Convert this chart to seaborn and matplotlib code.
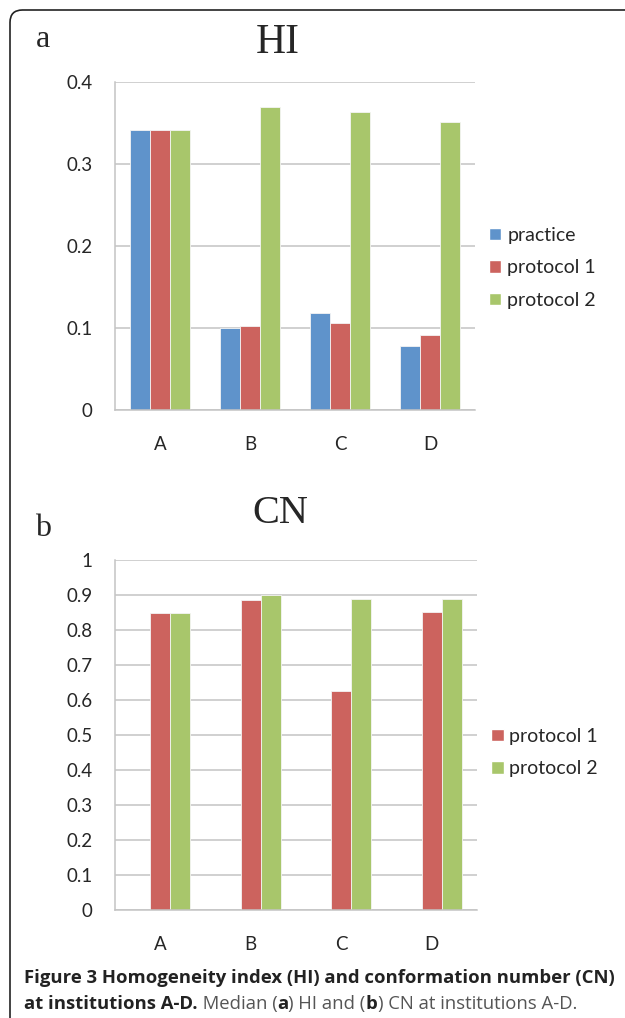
import pandas as pd
import seaborn as sns
import matplotlib.pyplot as plt
from matplotlib.patches import FancyBboxPatch, Patch

# valores
instituicoes = ["A", "B", "C", "D"]
series = ["practice", "protocol 1", "protocol 2"]
hi_practice = [0.342, 0.100, 0.118, 0.078]
hi_protocol1 = [0.342, 0.102, 0.106, 0.091]
hi_protocol2 = [0.342, 0.369, 0.363, 0.351]
cn_protocol1 = [0.848, 0.885, 0.625, 0.851]
cn_protocol2 = [0.848, 0.900, 0.888, 0.888]
hi_ticks = [0, 0.1, 0.2, 0.3, 0.4]
cn_ticks = [0, 0.1, 0.2, 0.3, 0.4, 0.5, 0.6, 0.7, 0.8, 0.9, 1]

cores = {"practice": "#5F93CB", "protocol 1": "#CC635E", "protocol 2": "#A8C66B"}

tabelaHI = pd.DataFrame({
    "inst": instituicoes * 3,
    "serie": [s for s in series for _ in instituicoes],
    "valor": hi_practice + hi_protocol1 + hi_protocol2,
})
# no CN nao tem practice, mas o excel deixa o espaço vazio
tabelaCN = pd.DataFrame({
    "inst": instituicoes * 3,
    "serie": [s for s in series for _ in instituicoes],
    "valor": [float("nan")] * 4 + cn_protocol1 + cn_protocol2,
})

sns.set_style("white")
plt.rcParams["font.family"] = ["Lato", "DejaVu Sans"]

fig = plt.figure(figsize=(6.25, 10.18), dpi=100)
W, H = 625, 1018

# moldura arredondada (passa da borda de baixo e da direita)
moldura = FancyBboxPatch((10 / W, 1 - 1040 / H), 1.05, 1030 / H,
                         boxstyle="round,pad=0,rounding_size=0.02",
                         transform=fig.transFigure, fill=False,
                         edgecolor="#222222", linewidth=1.2, mutation_aspect=W / H)
fig.patches.append(moldura)


def painel(ax, tabela, ticks, ymax, legenda, centro_leg):
    sns.barplot(data=tabela, x="inst", y="valor", hue="serie", hue_order=series,
                palette=cores, saturation=1, width=2 / 3, ax=ax, errorbar=None,
                edgecolor="#F4F4F4", linewidth=0.6, legend=False)
    ax.set_xlim(-0.5, 3.5)
    ax.set_ylim(0, ymax)
    ax.set_yticks(ticks)
    ax.set_yticklabels([f"{t:g}" for t in ticks])
    ax.set_xlabel("")
    ax.set_ylabel("")
    ax.set_axisbelow(True)
    ax.yaxis.grid(True, color="#C4C4C4", linewidth=1.1)
    for lado in ["top", "right"]:
        ax.spines[lado].set_visible(False)
    ax.spines["left"].set_color("#C4C4C4")
    ax.spines["bottom"].set_color("#C4C4C4")
    ax.spines["left"].set_linewidth(1.1)
    ax.spines["bottom"].set_linewidth(1.1)
    ax.tick_params(axis="y", length=7, color="#C4C4C4", width=1.1, labelsize=13.5, pad=9)
    ax.tick_params(axis="x", length=0, labelsize=13.5, pad=19)
    ax.set_xticks([-0.5, 0.5, 1.5, 2.5, 3.5], minor=True)
    ax.tick_params(axis="x", which="minor", length=6, color="#C4C4C4", width=1.1, direction="out")
    handles = [Patch(facecolor=cores[s], label=s) for s in legenda]
    ax.legend(handles=handles, loc="center left", bbox_to_anchor=(1.04, centro_leg),
              frameon=False, fontsize=14, handlelength=0.62, handleheight=0.62,
              handletextpad=0.3, labelspacing=0.8, borderaxespad=0, borderpad=0)


axHI = fig.add_axes([115 / W, 1 - 410 / H, 360 / W, 328 / H])
painel(axHI, tabelaHI, hi_ticks, 0.4, series, 0.433)

axCN = fig.add_axes([115 / W, 1 - 910 / H, 362 / W, 350 / H])
painel(axCN, tabelaCN, cn_ticks, 1.0, series[1:], 0.45)

# titulos e letras dos paineis
fig.text(278 / W, 1 - 53 / H, "HI", fontsize=30, family="Liberation Serif", ha="center", va="baseline")
fig.text(43 / W, 1 - 47 / H, "a", fontsize=23, family="Liberation Serif", ha="center", va="baseline")
fig.text(280 / W, 1 - 523 / H, "CN", fontsize=29, family="Liberation Serif", ha="center", va="baseline")
fig.text(43 / W, 1 - 536 / H, "b", fontsize=23, family="Liberation Serif", ha="center", va="baseline")

# legenda da figura
fontecap = ["Open Sans", "DejaVu Sans"]
fig.text(24 / W, 1 - 983 / H, "Figure 3 Homogeneity index (HI) and conformation number (CN)",
         fontsize=13.3, family=fontecap, weight="bold", color="#222222", va="baseline")
t1 = fig.text(24 / W, 1 - 1009 / H, "at institutions A-D.", fontsize=13.3, family=fontecap,
              weight="bold", color="#222222", va="baseline")
fig.canvas.draw()
r = fig.canvas.get_renderer()
x = t1.get_window_extent(r).x1 / W
partes = [(" Median (", "normal"), ("a", "bold"), (") HI and (", "normal"),
          ("b", "bold"), (") CN at institutions A-D.", "normal")]
for txt, peso in partes:
    t = fig.text(x, 1 - 1009 / H, txt, fontsize=13.3, family=fontecap, weight=peso,
                 color="#222222" if peso == "bold" else "#555555", va="baseline")
    x = t.get_window_extent(r).x1 / W

fig.savefig("out.png", dpi=100)
